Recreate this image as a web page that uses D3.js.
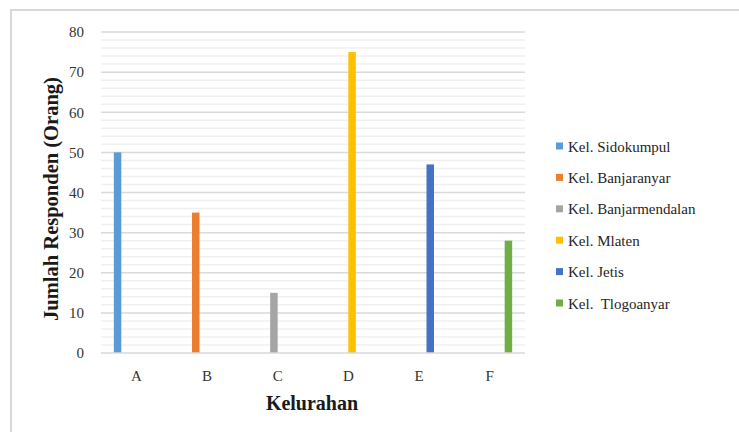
<!DOCTYPE html>
<html>
<head>
<meta charset="utf-8">
<script src="https://cdn.jsdelivr.net/npm/d3@7/dist/d3.min.js"></script>
<style>
  html, body { margin: 0; padding: 0; background: #fff; }
  svg { display: block; }
</style>
</head>
<body>
<svg id="chart" width="739" height="432"></svg>
<script>
// Respondents per kelurahan: each series has a value only in its own category
const categories = ["A", "B", "C", "D", "E", "F"];
const seriesNames = ["Kel. Sidokumpul", "Kel. Banjaranyar", "Kel. Banjarmendalan", "Kel. Mlaten", "Kel. Jetis", "Kel.  Tlogoanyar"];
const seriesColors = ["#5B9BD5", "#ED7D31", "#A5A5A5", "#FFC000", "#4472C4", "#70AD47"];
const sidokumpul     = [50, null, null, null, null, null];
const banjaranyar    = [null, 35, null, null, null, null];
const banjarmendalan = [null, null, 15, null, null, null];
const mlaten         = [null, null, null, 75, null, null];
const jetis          = [null, null, null, null, 47, null];
const tlogoanyar     = [null, null, null, null, null, 28];
const yTicks = [0, 10, 20, 30, 40, 50, 60, 70, 80];

const seriesValues = [sidokumpul, banjaranyar, banjarmendalan, mlaten, jetis, tlogoanyar];

const svg = d3.select("#chart");
const serif = "'Liberation Serif', 'Times New Roman', serif";

// chart area frame
svg.append("path")
  .attr("d", "M11,432 L11,10 L739,10")
  .attr("fill", "none")
  .attr("stroke", "#d9d9d9")
  .attr("stroke-width", 2);

const plot = { left: 101, right: 525, top: 32, bottom: 353 };

const y = d3.scaleLinear().domain([0, 80]).range([plot.bottom, plot.top]);
const x0 = d3.scaleBand().domain(categories).range([plot.left, plot.right]).padding(0);
const x1 = d3.scaleBand().domain(d3.range(seriesNames.length))
  .range([0, x0.bandwidth()]).paddingInner(0).paddingOuter(1.71);

// minor gridlines every 2
const minor = d3.range(0, 81, 2).filter(v => v % 10 !== 0);
svg.append("g").selectAll("line").data(minor).join("line")
  .attr("x1", plot.left).attr("x2", plot.right)
  .attr("y1", d => y(d)).attr("y2", d => y(d))
  .attr("stroke", "#f0f0f0").attr("stroke-width", 1.5);

// major gridlines
svg.append("g").selectAll("line").data(yTicks.filter(v => v > 0)).join("line")
  .attr("x1", plot.left).attr("x2", plot.right)
  .attr("y1", d => y(d)).attr("y2", d => y(d))
  .attr("stroke", "#d9d9d9").attr("stroke-width", 1.5);

// bars
const bars = [];
seriesValues.forEach((vals, si) => {
  vals.forEach((v, ci) => {
    if (v != null) bars.push({ si, cat: categories[ci], v });
  });
});
svg.append("g").selectAll("rect").data(bars).join("rect")
  .attr("x", d => x0(d.cat) + x1(d.si))
  .attr("width", x1.bandwidth())
  .attr("y", d => y(d.v))
  .attr("height", d => y(0) - y(d.v))
  .attr("fill", d => seriesColors[d.si]);

// category axis baseline
svg.append("line")
  .attr("x1", plot.left).attr("x2", plot.right)
  .attr("y1", y(0)).attr("y2", y(0))
  .attr("stroke", "#d9d9d9").attr("stroke-width", 1.5);

// y tick labels
const yAxis = svg.append("g")
  .attr("transform", `translate(${plot.left - 17},0)`)
  .call(d3.axisLeft(y).tickValues(yTicks).tickSize(0).tickPadding(0));
yAxis.select(".domain").remove();
yAxis.selectAll("text")
  .attr("font-family", serif).attr("font-size", 15).attr("fill", "#333");

// x tick labels
const xAxis = svg.append("g")
  .attr("transform", `translate(0,${plot.bottom + 17})`)
  .call(d3.axisBottom(x0).tickSize(0).tickPadding(0));
xAxis.select(".domain").remove();
xAxis.selectAll("text")
  .attr("font-family", serif).attr("font-size", 15).attr("fill", "#333");

// axis titles
svg.append("text")
  .attr("x", (plot.left + plot.right) / 2 - 1).attr("y", 410)
  .attr("text-anchor", "middle")
  .attr("font-family", serif).attr("font-size", 20).attr("font-weight", "bold")
  .attr("fill", "#1a1a1a")
  .text("Kelurahan");

svg.append("text")
  .attr("transform", "translate(58,199) rotate(-90)")
  .attr("text-anchor", "middle")
  .attr("font-family", serif).attr("font-size", 20.5).attr("font-weight", "bold")
  .attr("fill", "#1a1a1a")
  .text("Jumlah Responden (Orang)");

// legend
const legend = svg.append("g").attr("transform", "translate(556,146)");
const rows = legend.selectAll("g").data(seriesNames).join("g")
  .attr("transform", (d, i) => `translate(0,${i * 31.4})`);
rows.append("rect")
  .attr("x", 0).attr("y", -3.5).attr("width", 7).attr("height", 7)
  .attr("fill", (d, i) => seriesColors[i]);
rows.append("text")
  .attr("x", 12).attr("y", 5.5)
  .attr("font-family", serif).attr("font-size", 15).attr("fill", "#262626")
  .attr("xml:space", "preserve")
  .style("white-space", "pre")
  .text(d => d);
</script>
</body>
</html>
